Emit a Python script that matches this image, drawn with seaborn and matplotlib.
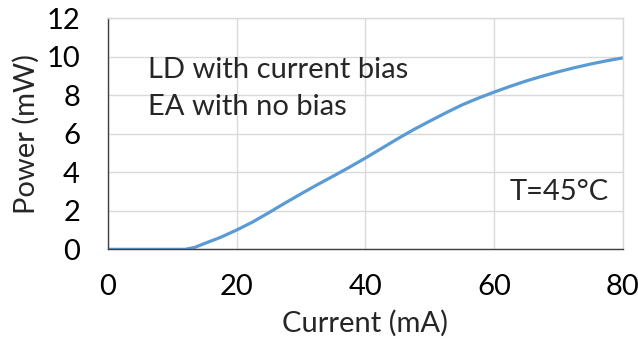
import numpy as np
import pandas as pd
import matplotlib
matplotlib.use("Agg")
import matplotlib.pyplot as plt
import seaborn as sns

# values
current_ma = [0, 5, 10, 12, 13.5, 15, 17.5, 20, 22.5, 25, 27.5, 30, 32.5, 35, 37.5, 40,
              42.5, 45, 47.5, 50, 52.5, 55, 57.5, 60, 62.5, 65, 67.5, 70, 72.5, 75, 77.5, 80]
power_mw = [0, 0, 0, 0, 0.1, 0.3, 0.62, 1.0, 1.42, 1.9, 2.4, 2.88, 3.35, 3.8, 4.26, 4.74,
            5.24, 5.74, 6.22, 6.66, 7.09, 7.5, 7.85, 8.17, 8.47, 8.75, 9.0, 9.23, 9.44, 9.63, 9.8, 9.95]
x_ticks = [0, 20, 40, 60, 80]
y_ticks = [0, 2, 4, 6, 8, 10, 12]

df = pd.DataFrame({"Current": current_ma, "Power": power_mw})

sns.set_theme(style="whitegrid")
plt.rcParams["font.family"] = ["Lato", "DejaVu Sans"]

fig = plt.figure(figsize=(6.38, 3.42), dpi=100)
ax = fig.add_axes([0.169, 0.271, 0.807, 0.675])

sns.lineplot(data=df, x="Current", y="Power", ax=ax, color="#5B9BD5", linewidth=2.3)

ax.set_xlim(0, 80)
ax.set_ylim(0, 12)
ax.set_xticks(x_ticks)
ax.set_yticks(y_ticks)
ax.grid(True, color="#d9d9d9", linewidth=1.0)
ax.set_facecolor("white")
for s in ["top", "right"]:
    ax.spines[s].set_visible(True)
    ax.spines[s].set_color("#d9d9d9")
    ax.spines[s].set_linewidth(1.0)
for s in ["left", "bottom"]:
    ax.spines[s].set_visible(True)
    ax.spines[s].set_color("#404040")
    ax.spines[s].set_linewidth(1.0)
ax.tick_params(axis="x", length=0, labelsize=21, colors="black", pad=18)
ax.tick_params(axis="y", length=0, labelsize=21, colors="black", pad=20)

ax.set_xlabel("Current (mA)", fontsize=21, labelpad=7)
ax.set_ylabel("Power (mW)", fontsize=21, labelpad=5)

ax.text(6.2, 8.88, "LD with current bias", fontsize=21, va="baseline")
ax.text(6.2, 6.98, "EA with no bias", fontsize=21, va="baseline")
ax.text(62.4, 2.98, "T=45°C", fontsize=21, va="center")

fig.savefig("out.png", dpi=100)
